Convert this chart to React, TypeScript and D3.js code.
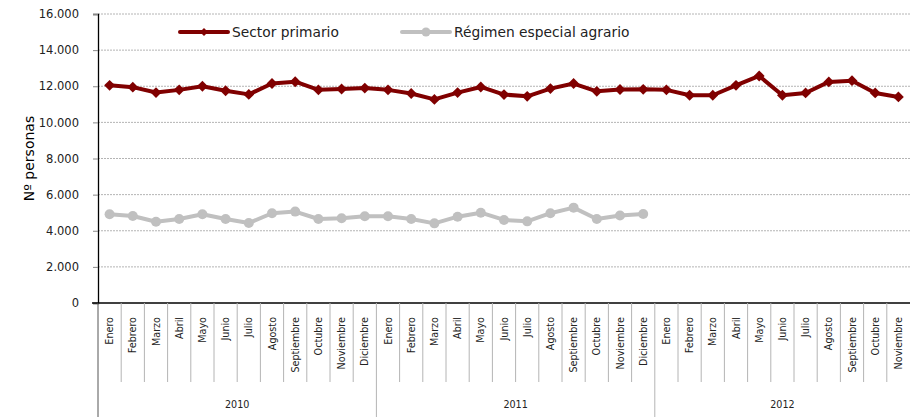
import { useEffect, useRef } from 'react';
import * as d3 from 'd3';

const months = ['Enero', 'Febrero', 'Marzo', 'Abril', 'Mayo', 'Junio', 'Julio', 'Agosto', 'Septiembre', 'Octubre', 'Noviembre', 'Diciembre'];
const years = ['2010', '2011', '2012'];
const monthsPerYear = [12, 12, 11];

const sectorPrimario = [
    12050, 11950, 11650, 11800, 12000, 11750, 11550, 12150, 12250, 11800, 11850, 11900,
    11800, 11600, 11270, 11650, 11960, 11540, 11440, 11870, 12150, 11720, 11820, 11830,
    11800, 11500, 11500, 12050, 12570, 11500, 11630, 12240, 12310, 11630, 11410,
];
const regimenAgrario = [
    4910, 4820, 4500, 4650, 4910, 4650, 4430, 4970, 5060, 4650, 4690, 4800,
    4800, 4650, 4410, 4780, 5000, 4600, 4520, 4970, 5280, 4650, 4840, 4930,
];
const yTicks = [0, 2000, 4000, 6000, 8000, 10000, 12000, 14000, 16000];
const seriesNames = ['Sector primario', 'Régimen especial agrario'];

const font = 'DejaVu Sans, Verdana, sans-serif';

const App = () => {
    const ref = useRef<SVGSVGElement>(null);

    useEffect(() => {
        const svg = d3.select(ref.current);
        svg.selectAll('*').remove();

        const left = 98, right = 910, top = 14, bottom = 303;

        // build category list (year + month)
        const cats: { key: string; month: string; year: string }[] = [];
        years.forEach((y, i) => {
            for (let m = 0; m < monthsPerYear[i]; m++) cats.push({ key: `${y}-${m}`, month: months[m], year: y });
        });

        const x = d3.scaleBand().domain(cats.map(c => c.key)).range([left, right]);
        const y = d3.scaleLinear().domain([0, 16000]).range([bottom, top]);
        const fmt = (v: number) => d3.format(',')(v).replace(/,/g, '.');

        // gridlines
        svg.append('g')
            .selectAll('line')
            .data(yTicks.filter(t => t > 0))
            .enter()
            .append('line')
            .attr('x1', left).attr('x2', right)
            .attr('y1', d => y(d)).attr('y2', d => y(d))
            .attr('stroke', '#b4b4b4')
            .attr('stroke-dasharray', '2,1');

        // y axis
        const yAxis = svg.append('g')
            .attr('transform', `translate(${left},0)`)
            .call(d3.axisLeft(y).tickValues(yTicks).tickSize(5).tickFormat(d => fmt(+d)));
        yAxis.select('.domain').attr('stroke', '#000').attr('stroke-width', 1.3);
        yAxis.selectAll('.tick line').attr('stroke', '#888');
        yAxis.selectAll('text')
            .attr('font-family', font)
            .attr('font-size', 11.5)
            .attr('fill', '#222')
            .attr('x', -19);

        svg.append('text')
            .attr('transform', `translate(34, ${(top + bottom) / 2}) rotate(-90)`)
            .attr('text-anchor', 'middle')
            .attr('font-family', font)
            .attr('font-size', 14)
            .text('Nº personas');

        // x axis line
        svg.append('line')
            .attr('x1', left - 6).attr('x2', right)
            .attr('y1', bottom).attr('y2', bottom)
            .attr('stroke', '#000').attr('stroke-width', 1.3);

        // category separators
        svg.append('g')
            .selectAll('line')
            .data(cats.slice(1))
            .enter()
            .append('line')
            .attr('x1', d => x(d.key)!).attr('x2', d => x(d.key)!)
            .attr('y1', bottom).attr('y2', d => d.key.endsWith('-0') ? 417 : 382)
            .attr('stroke', '#b4b4b4');
        svg.append('line')
            .attr('x1', left).attr('x2', left)
            .attr('y1', bottom).attr('y2', 417)
            .attr('stroke', '#555');

        // month labels
        svg.append('g')
            .selectAll('text')
            .data(cats)
            .enter()
            .append('text')
            .attr('transform', d => `translate(${x(d.key)! + x.bandwidth() / 2 + 3.5}, 317) rotate(-90)`)
            .attr('text-anchor', 'end')
            .attr('font-family', font)
            .attr('font-size', 9.6)
            .attr('fill', '#222')
            .text(d => d.month);

        // year labels
        let start = 0;
        years.forEach((yr, i) => {
            const a = x(cats[start].key)!;
            const b = x(cats[start + monthsPerYear[i] - 1].key)! + x.bandwidth();
            svg.append('text')
                .attr('x', (a + b) / 2).attr('y', 408)
                .attr('text-anchor', 'middle')
                .attr('font-family', font)
                .attr('font-size', 9.6)
                .attr('fill', '#222')
                .text(yr);
            start += monthsPerYear[i];
        });

        const cx = (i: number) => x(cats[i].key)! + x.bandwidth() / 2;
        const line = d3.line<number>().x((d, i) => cx(i)).y(d => y(d));

        // regimen especial agrario
        svg.append('path')
            .datum(regimenAgrario)
            .attr('d', line)
            .attr('fill', 'none')
            .attr('stroke', '#c0c0c0')
            .attr('stroke-width', 4)
            .attr('stroke-linejoin', 'round');
        svg.append('g')
            .selectAll('circle')
            .data(regimenAgrario)
            .enter()
            .append('circle')
            .attr('cx', (d, i) => cx(i)).attr('cy', d => y(d))
            .attr('r', 5)
            .attr('fill', '#c0c0c0');

        // sector primario
        svg.append('path')
            .datum(sectorPrimario)
            .attr('d', line)
            .attr('fill', 'none')
            .attr('stroke', '#800000')
            .attr('stroke-width', 4)
            .attr('stroke-linejoin', 'round');
        const diamond = d3.symbol().type(d3.symbolDiamond2).size(75);
        svg.append('g')
            .selectAll('path')
            .data(sectorPrimario)
            .enter()
            .append('path')
            .attr('d', diamond)
            .attr('transform', (d, i) => `translate(${cx(i)},${y(d)})`)
            .attr('fill', '#800000');

        // legend
        const legend = svg.append('g');
        const items = [
            { name: seriesNames[0], color: '#800000', x0: 180, marker: 'diamond' },
            { name: seriesNames[1], color: '#c0c0c0', x0: 402, marker: 'circle' },
        ];
        items.forEach(it => {
            legend.append('line')
                .attr('x1', it.x0).attr('x2', it.x0 + 48)
                .attr('y1', 32).attr('y2', 32)
                .attr('stroke', it.color).attr('stroke-width', 4).attr('stroke-linecap', 'round');
            if (it.marker === 'diamond') {
                legend.append('path')
                    .attr('d', d3.symbol().type(d3.symbolDiamond2).size(40))
                    .attr('transform', `translate(${it.x0 + 24},32)`)
                    .attr('fill', it.color);
            } else {
                legend.append('circle')
                    .attr('cx', it.x0 + 24).attr('cy', 32).attr('r', 4.5)
                    .attr('fill', it.color);
            }
            legend.append('text')
                .attr('x', it.x0 + 52).attr('y', 37)
                .attr('font-family', font)
                .attr('font-size', 13.8)
                .attr('fill', '#222')
                .text(it.name);
        });
    }, []);

    return (
        <svg ref={ref} width={915} height={417} style={{ position: 'absolute', left: 0, top: 0, background: '#fff' }}></svg>
    );
};

export default App;
